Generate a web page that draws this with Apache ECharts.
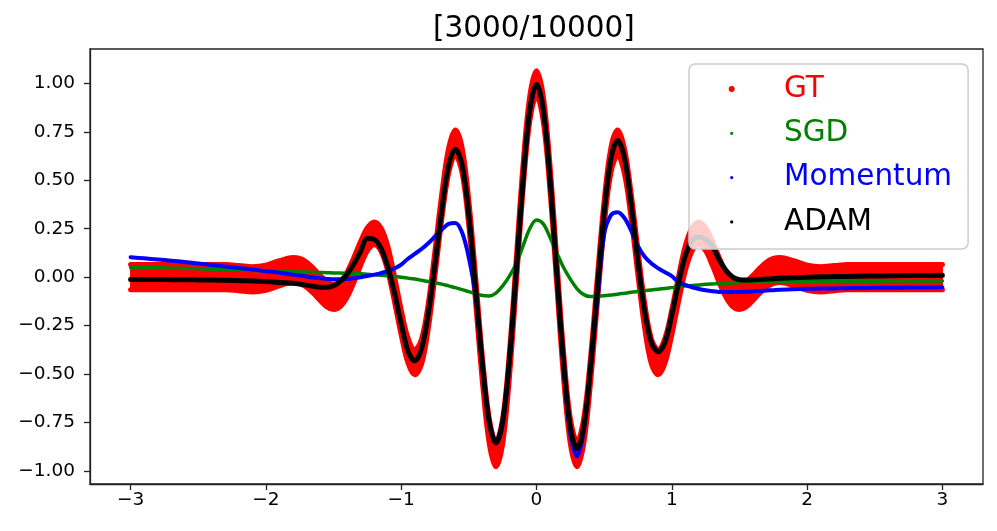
<!DOCTYPE html>
<html>
<head>
<meta charset="utf-8">
<script src="https://cdn.jsdelivr.net/npm/echarts@6/dist/echarts.min.js"></script>
<style>
html,body{margin:0;padding:0;background:#fff;}
#chart{width:997px;height:531px;}
</style>
</head>
<body>
<div id="chart"></div>
<script>
// ---- data ----
const titleText = '[3000/10000]';
const xs = [-3.0,-2.9,-2.8,-2.7,-2.6,-2.5,-2.4,-2.3,-2.2,-2.1,-2.0,-1.9,-1.8,
  -1.75,-1.7,-1.65,-1.6,-1.55,-1.5,-1.45,-1.4,-1.35,-1.3,-1.25,-1.2,-1.15,-1.1,-1.05,-1.0,
  -0.95,-0.9,-0.85,-0.8,-0.75,-0.7,-0.65,-0.6,-0.55,-0.5,-0.45,-0.4,-0.35,-0.3,-0.25,-0.2,-0.15,-0.1,-0.05,
  0,
  0.05,0.1,0.15,0.2,0.25,0.3,0.35,0.4,0.45,0.5,0.55,0.6,0.65,0.7,0.75,0.8,0.85,0.9,0.95,1.0,
  1.05,1.1,1.15,1.2,1.25,1.3,1.35,1.4,1.45,1.5,1.55,1.6,1.65,1.7,1.75,
  1.8,1.9,2.0,2.1,2.2,2.3,2.4,2.5,2.6,2.7,2.8,2.9,3.0];

// GT (noisy ground truth): upper and lower edge of the red point cloud
const gtHigh = [0.065,0.065,0.065,0.065,0.065,0.065,0.065,0.065,0.060,0.054,0.062,0.085,0.102,
  0.097,0.078,0.047,0.010,-0.023,-0.037,-0.022,0.026,0.102,0.185,0.255,0.285,0.255,0.163,0.005,-0.168,
  -0.313,-0.374,-0.320,-0.136,0.139,0.430,0.663,0.759,0.668,0.394,0.001,-0.410,-0.725,-0.848,-0.729,-0.386,0.090,0.575,0.933,
  1.065,
  0.933,0.575,0.090,-0.386,-0.729,-0.848,-0.725,-0.410,0.001,0.394,0.668,0.759,0.663,0.430,0.139,-0.136,-0.320,-0.374,-0.313,-0.168,
  0.005,0.163,0.255,0.285,0.255,0.185,0.102,0.026,-0.022,-0.037,-0.023,0.010,0.047,0.078,0.097,
  0.102,0.085,0.062,0.054,0.060,0.065,0.065,0.065,0.065,0.065,0.065,0.065,0.065];
const gtLow = [-0.065,-0.065,-0.065,-0.065,-0.065,-0.065,-0.065,-0.065,-0.070,-0.076,-0.068,-0.045,-0.028,
  -0.033,-0.052,-0.083,-0.120,-0.153,-0.167,-0.152,-0.104,-0.028,0.060,0.135,0.167,0.135,0.033,-0.125,-0.298,
  -0.443,-0.504,-0.450,-0.266,0.009,0.300,0.533,0.629,0.538,0.264,-0.129,-0.540,-0.855,-0.978,-0.859,-0.516,-0.040,0.445,0.803,
  0.935,
  0.803,0.445,-0.040,-0.516,-0.859,-0.978,-0.855,-0.540,-0.129,0.264,0.538,0.629,0.533,0.300,0.009,-0.266,-0.450,-0.504,-0.443,-0.298,
  -0.125,0.033,0.135,0.167,0.135,0.060,-0.028,-0.104,-0.152,-0.167,-0.153,-0.120,-0.083,-0.052,-0.033,
  -0.028,-0.045,-0.068,-0.076,-0.070,-0.065,-0.065,-0.065,-0.065,-0.065,-0.065,-0.065,-0.065];

const sgd = [0.050,0.049,0.048,0.046,0.045,0.043,0.041,0.039,0.037,0.035,0.033,0.031,0.029,
  0.027,0.026,0.025,0.024,0.023,0.022,0.021,0.020,0.019,0.017,0.015,0.013,0.010,0.007,0.004,0.000,
  -0.005,-0.010,-0.016,-0.022,-0.029,-0.036,-0.045,-0.054,-0.064,-0.075,-0.086,-0.095,-0.097,-0.082,-0.045,0.005,0.070,0.160,0.250,
  0.295,
  0.275,0.205,0.125,0.050,-0.010,-0.060,-0.090,-0.100,-0.099,-0.096,-0.092,-0.088,-0.083,-0.078,-0.074,-0.070,-0.066,-0.062,-0.058,-0.054,
  -0.050,-0.046,-0.043,-0.040,-0.037,-0.035,-0.033,-0.031,-0.029,-0.027,-0.026,-0.025,-0.024,-0.023,-0.023,
  -0.022,-0.022,-0.021,-0.021,-0.021,-0.021,-0.021,-0.021,-0.020,-0.020,-0.020,-0.020,-0.020];

const momentum = [0.103,0.097,0.091,0.085,0.078,0.071,0.063,0.055,0.047,0.039,0.031,0.023,0.013,
  0.008,0.003,-0.002,-0.006,-0.009,-0.011,-0.011,-0.009,-0.005,0.000,0.006,0.013,0.021,0.031,0.045,0.065,
  0.095,0.120,0.145,0.175,0.210,0.245,0.275,0.280,0.230,0.100,-0.100,-0.440,-0.740,-0.845,-0.750,-0.440,0.010,0.480,0.850,
  0.990,
  0.860,0.500,0.010,-0.460,-0.810,-0.925,-0.790,-0.450,-0.120,0.220,0.320,0.335,0.305,0.240,0.160,0.105,0.070,0.045,0.025,0.005,
  -0.025,-0.040,-0.052,-0.061,-0.068,-0.073,-0.076,-0.077,-0.077,-0.076,-0.075,-0.073,-0.071,-0.069,-0.067,
  -0.065,-0.062,-0.060,-0.059,-0.058,-0.057,-0.056,-0.055,-0.055,-0.054,-0.053,-0.053,-0.052];

const adam = [-0.012,-0.012,-0.012,-0.013,-0.013,-0.014,-0.015,-0.016,-0.018,-0.020,-0.023,-0.027,-0.032,
  -0.036,-0.041,-0.047,-0.052,-0.052,-0.044,-0.022,0.015,0.068,0.133,0.200,0.195,0.150,0.055,-0.080,-0.240,
  -0.380,-0.432,-0.370,-0.190,0.070,0.345,0.575,0.660,0.580,0.320,-0.060,-0.450,-0.745,-0.855,-0.745,-0.425,0.030,0.495,0.860,
  0.995,
  0.865,0.505,0.020,-0.440,-0.775,-0.885,-0.770,-0.460,-0.060,0.330,0.610,0.705,0.615,0.375,0.080,-0.180,-0.340,-0.385,-0.335,-0.195,
  -0.030,0.110,0.190,0.207,0.195,0.160,0.090,0.035,0.000,-0.013,-0.015,-0.014,-0.012,-0.010,-0.008,
  -0.006,-0.003,0.000,0.002,0.003,0.004,0.005,0.006,0.007,0.008,0.009,0.009,0.010];

const xTicks = [-3,-2,-1,0,1,2,3];
const yTicks = [-1,-0.75,-0.5,-0.25,0,0.25,0.5,0.75,1];
const legendNames = ['GT','SGD','Momentum','ADAM'];

// ---- chart ----
const colors = {GT:'#ff0000', SGD:'#008000', Momentum:'#0000ff', ADAM:'#000000'};
const FONT = 'DejaVu Sans';
const pair = arr => xs.map((x,i) => [x, arr[i]]);
const minus = s => s.replace('-', '\u2212');

const chart = echarts.init(document.getElementById('chart'), null, {renderer:'canvas'});

// legend icons: big dot for GT, small dots for the others (same 6x6 box)
const bigDot = 'circle';
const smallDot = 'path://M0,0M6,6M1.4,3a1.6,1.6 0 1,0 3.2,0a1.6,1.6 0 1,0 -3.2,0z';

const edgeLine = (name, arr) => ({
  name: name, type: 'line', data: pair(arr), smooth: 0.35, showSymbol: false, silent: true,
  color: colors.GT, z: 2,
  lineStyle: {color: colors.GT, width: 5, cap: 'round', join: 'round'}
});
const lineSeries = (name, arr, width) => ({
  name: name, type: 'line', data: pair(arr), smooth: 0.35, showSymbol: false, silent: true,
  color: colors[name], z: 2,
  lineStyle: {color: colors[name], width: width, cap: 'round', join: 'round'},
  itemStyle: {color: colors[name]}
});

const option = {
  animation: false,
  backgroundColor: '#ffffff',
  title: {
    text: titleText, left: 433, top: 14, padding: 0,
    textStyle: {fontFamily: FONT, fontSize: 29.5, fontWeight: 'normal', color: '#000'}
  },
  grid: {left: 90, right: 14, top: 49, bottom: 47, show: true, borderColor: '#222', borderWidth: 1.3, backgroundColor: 'transparent'},
  legend: {
    orient: 'vertical', left: 689, top: 64, z: 10,
    padding: [8, 16, 10, 39.7],
    itemGap: 10.3, itemWidth: 6, itemHeight: 6,
    selectedMode: false,
    backgroundColor: 'rgba(255,255,255,0.8)', borderColor: '#cccccc', borderWidth: 1.5, borderRadius: 6,
    itemStyle: {borderWidth: 0},
    textStyle: {fontFamily: FONT, fontSize: 29.5, lineHeight: 34, padding: [0,0,0,44.3]},
    data: legendNames.map(n => ({
      name: n, icon: n === 'GT' ? bigDot : smallDot,
      itemStyle: {color: colors[n], borderWidth: 0},
      textStyle: {color: colors[n]}
    }))
  },
  xAxis: {
    type: 'value', min: -3.3, max: 3.3,
    axisLine: {show: true, onZero: false, lineStyle: {color: '#222', width: 1.3}},
    axisTick: {show: true, length: 6, customValues: xTicks, lineStyle: {color: '#222', width: 1.3}},
    axisLabel: {customValues: xTicks, margin: 7, fontFamily: FONT, fontSize: 18.5, color: '#000',
      formatter: v => minus(String(v))},
    splitLine: {show: false}
  },
  yAxis: {
    type: 'value', min: -1.067, max: 1.177,
    axisLine: {show: true, onZero: false, lineStyle: {color: '#222', width: 1.3}},
    axisTick: {show: true, length: 6, customValues: yTicks, lineStyle: {color: '#222', width: 1.3}},
    axisLabel: {customValues: yTicks, margin: 15, fontFamily: FONT, fontSize: 18.5, color: '#000', padding: [5,0,0,0],
      formatter: v => minus(Number(v).toFixed(2))},
    splitLine: {show: false}
  },
  series: [
    {
      name: 'GT', type: 'custom', z: 2, silent: true, clip: true,
      color: colors.GT, itemStyle: {color: colors.GT},
      data: xs.map((x,i) => [x, gtHigh[i], gtLow[i]]),
      encode: {x: 0, y: [1, 2]},
      renderItem: (params, api) => {
        const i = params.dataIndex;
        if (i >= xs.length - 1) return null;
        const pts = [
          api.coord([xs[i], gtHigh[i]]), api.coord([xs[i+1], gtHigh[i+1]]),
          api.coord([xs[i+1], gtLow[i+1]]), api.coord([xs[i], gtLow[i]])
        ];
        return {type: 'polygon', shape: {points: pts},
          style: {fill: colors.GT, stroke: colors.GT, lineWidth: 1}};
      }
    },
    edgeLine('GT upper', gtHigh),
    edgeLine('GT lower', gtLow),
    lineSeries('SGD', sgd, 3.5),
    lineSeries('Momentum', momentum, 4),
    lineSeries('ADAM', adam, 5)
  ]
};
chart.setOption(option);
</script>
</body>
</html>
